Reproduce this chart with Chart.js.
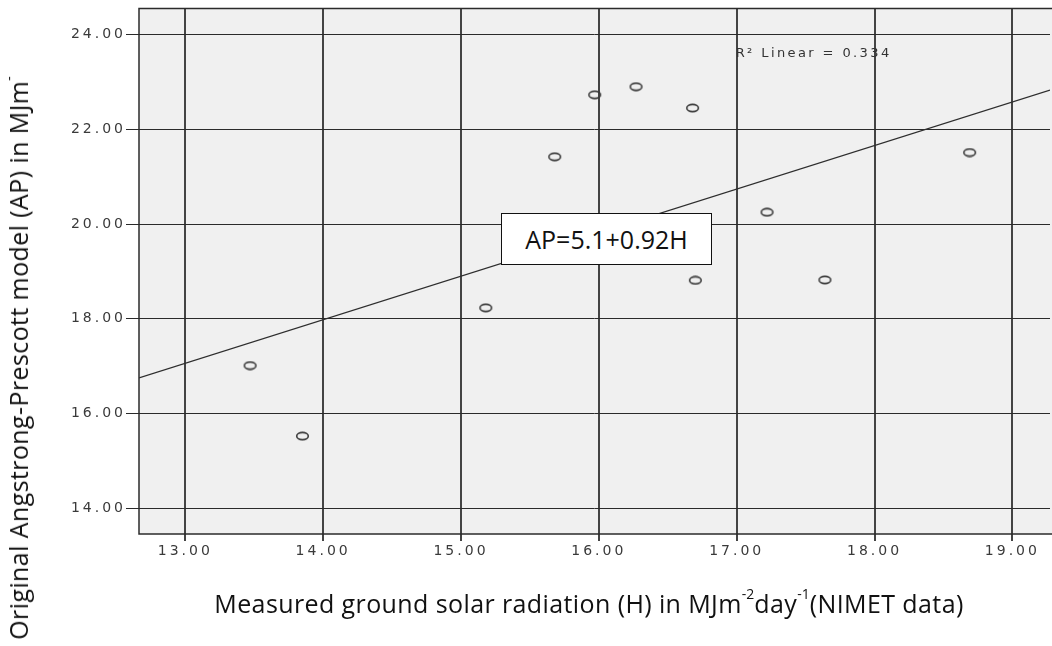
<!DOCTYPE html>
<html>
<head>
<meta charset="utf-8">
<script src="https://cdn.jsdelivr.net/npm/chart.js@4/dist/chart.umd.min.js"></script>
<style>
  html, body { margin: 0; padding: 0; background: #fff; overflow: hidden; width: 1052px; height: 646px; }
  #chart { position: absolute; left: 0; top: 0; }
  .title { position: absolute; font-family: "Open Sans", sans-serif; font-size: 25px; letter-spacing: 0.4px; color: #111; white-space: nowrap; }
  .title sup { font-size: 14px; position: relative; top: -2px; vertical-align: top; letter-spacing: 0; }
  #ytitle { left: 18px; top: 358px; transform: translate(-50%, -50%) rotate(-90deg); }
  #xtitle { left: 589px; top: 603px; transform: translate(-50%, -50%); }
  #eq { position: absolute; left: 501px; top: 213px; width: 209px; height: 50px; background: #fff;
        border: 1.5px solid #111; font-family: "Open Sans", sans-serif; font-size: 25px; color: #111;
        display: flex; align-items: center; justify-content: center; }
</style>
</head>
<body>
<canvas id="chart" width="1057" height="646"></canvas>
<div class="title" id="ytitle">Original Angstrong-Prescott model (AP) in MJm<sup>-</sup></div>
<div class="title" id="xtitle">Measured ground solar radiation (H) in MJm<sup>-2</sup>day<sup>-1</sup>(NIMET data)</div>
<div id="eq">AP=5.1+0.92H</div>
<script>
// Measured ground solar radiation H (MJ m-2 day-1, NIMET)
const measuredH = [13.47, 13.85, 15.18, 15.68, 15.97, 16.27, 16.68, 16.70, 17.22, 17.64, 18.69];
// Angstrom-Prescott model estimate AP for the same months
const modelAP   = [17.01, 15.52, 18.23, 21.42, 22.73, 22.90, 22.45, 18.81, 20.25, 18.82, 21.51];

// Fitted linear relation AP = a + b*H
const fitIntercept = 5.1;
const fitSlope = 0.92;
const rSquared = 0.334;

// Axis tick values
const xTicks = [13, 14, 15, 16, 17, 18, 19];
const yTicks = [14, 16, 18, 20, 22, 24];

const xMin = 12.664, xMax = 19.273;
const yMin = 13.452, yMax = 24.555;

const scatterPoints = measuredH.map((h, i) => ({ x: h, y: modelAP[i] }));
const fitLine = [xMin, xMax].map(h => ({ x: h, y: fitIntercept + fitSlope * h }));

// Small hollow elliptical marker
function ringMarker() {
  const c = document.createElement('canvas');
  c.width = 15; c.height = 10;
  const g = c.getContext('2d');
  g.strokeStyle = '#3a3a3a';
  g.lineWidth = 1.6;
  g.beginPath();
  g.ellipse(7.5, 5, 5.8, 3.6, 0, 0, Math.PI * 2);
  g.stroke();
  return c;
}

const TICK_SPACING = '3px';

const framePlugin = {
  id: 'frame',
  beforeDraw(chart) {
    const { ctx, chartArea: a } = chart;
    ctx.save();
    ctx.fillStyle = '#f0f0f0';
    ctx.fillRect(a.left, a.top, a.right - a.left + 4, a.bottom - a.top);
    ctx.restore();
    ctx.letterSpacing = TICK_SPACING;
  },
  beforeDatasetsDraw(chart) {
    const { ctx, chartArea: a } = chart;
    ctx.letterSpacing = '0px';
    ctx.save();
    ctx.strokeStyle = '#2b2b2b';
    ctx.lineWidth = 1.5;
    ctx.beginPath();
    ctx.moveTo(a.right + 4, a.top);
    ctx.lineTo(a.left, a.top);
    ctx.lineTo(a.left, a.bottom);
    ctx.lineTo(a.right + 4, a.bottom);
    ctx.stroke();
    ctx.restore();
  },
  afterDatasetsDraw(chart) {
    const { ctx } = chart;
    const xs = chart.scales.x, ys = chart.scales.y;
    ctx.save();
    ctx.letterSpacing = '2.4px';
    ctx.fillStyle = '#333';
    ctx.font = '13px "DejaVu Sans"';
    ctx.textBaseline = 'alphabetic';
    ctx.textAlign = 'left';
    ctx.fillText('R\u00b2 Linear = ' + rSquared.toFixed(3), xs.getPixelForValue(17) - 1, ys.getPixelForValue(24) + 22);
    ctx.restore();
    ctx.letterSpacing = '0px';
  }
};

const tickFont = { family: '"DejaVu Sans"', size: 14 };

new Chart(document.getElementById('chart'), {
  type: 'scatter',
  data: {
    datasets: [
      {
        label: 'AP',
        data: scatterPoints,
        pointStyle: ringMarker(),
        pointRadius: 6,
        pointHoverRadius: 6,
        showLine: false
      },
      {
        label: 'Linear fit',
        type: 'line',
        data: fitLine,
        borderColor: '#2e2e2e',
        borderWidth: 1.2,
        pointRadius: 0,
        fill: false,
        tension: 0
      }
    ]
  },
  options: {
    responsive: false,
    animation: false,
    events: [],
    layout: { padding: { top: 8, left: 0, right: -8, bottom: 0 } },
    plugins: { legend: { display: false }, tooltip: { enabled: false } },
    scales: {
      x: {
        type: 'linear',
        min: xMin, max: xMax,
        afterBuildTicks: s => { s.ticks = xTicks.map(v => ({ value: v })); },
        afterFit: s => { s.height = 112; s.paddingRight = 0; },
        ticks: { font: tickFont, color: '#3a3a3a', padding: 2, maxRotation: 0,
                 callback: v => Number(v).toFixed(2) },
        grid: { color: '#444', lineWidth: 2, tickLength: 7, drawTicks: true },
        border: { display: false }
      },
      y: {
        type: 'linear',
        min: yMin, max: yMax,
        afterBuildTicks: s => { s.ticks = yTicks.map(v => ({ value: v })); },
        afterFit: s => { s.width = 139; },
        ticks: { font: tickFont, color: '#3a3a3a', padding: 0,
                 callback: v => Number(v).toFixed(2) },
        grid: { color: '#2a2a2a', lineWidth: 1, tickLength: 13, drawTicks: true },
        border: { display: false }
      }
    }
  },
  plugins: [framePlugin]
});
</script>
</body>
</html>
